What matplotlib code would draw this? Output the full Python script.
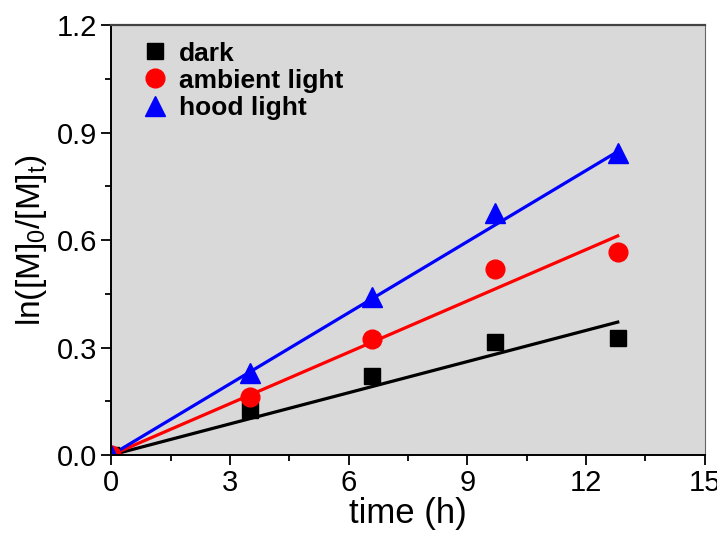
import numpy as np
import matplotlib
matplotlib.use("Agg")
import matplotlib.pyplot as plt
from matplotlib.ticker import MultipleLocator, FormatStrFormatter

plt.rcParams['font.family'] = ['Liberation Sans', 'DejaVu Sans']
plt.rcParams['mathtext.default'] = 'regular'

# data
time_h = [0, 3.5, 6.6, 9.7, 12.8]
dark = [0, 0.125, 0.222, 0.317, 0.327]
ambient = [0, 0.162, 0.323, 0.520, 0.568]
hood = [0, 0.230, 0.442, 0.675, 0.843]

# slopes of the fitted lines (per hour)
slope_dark = 0.0290
slope_ambient = 0.0478
slope_hood = 0.0662
fit_end = 12.8

fig = plt.figure(figsize=(7.17, 5.36), dpi=100)
ax = fig.add_axes([0.155, 0.151, 0.828, 0.802])
ax.set_facecolor('#d9d9d9')

xf = np.array([0, fit_end])
ax.plot(xf, slope_dark * xf, color='black', lw=2.3)
ax.plot(xf, slope_ambient * xf, color='red', lw=2.3)
ax.plot(xf, slope_hood * xf, color='blue', lw=2.3)

ax.plot(time_h, dark, 's', color='black', ms=11.5, ls='none', label='dark')
ax.plot(time_h, ambient, 'o', color='red', ms=13.5, ls='none', label='ambient light')
ax.plot(time_h, hood, '^', color='blue', ms=14, ls='none', label='hood light')

ax.set_xlim(0, 15)
ax.set_ylim(0, 1.2)
ax.xaxis.set_major_locator(MultipleLocator(3))
ax.xaxis.set_minor_locator(MultipleLocator(1.5))
ax.yaxis.set_major_locator(MultipleLocator(0.3))
ax.yaxis.set_minor_locator(MultipleLocator(0.15))
ax.yaxis.set_major_formatter(FormatStrFormatter('%.1f'))
ax.tick_params(which='major', direction='out', length=7, width=1.3, labelsize=21,
               pad=3, top=False, right=False)
ax.tick_params(which='minor', direction='out', length=4, width=1.3, top=False, right=False)

for s in ['left', 'bottom']:
    ax.spines[s].set_linewidth(1.4)
ax.spines['top'].set_color('#444444')
ax.spines['top'].set_linewidth(1.6)
ax.spines['right'].set_color('#666666')

ax.set_xlabel('time (h)', fontsize=25, labelpad=0)
ax.set_ylabel('ln([M]$_0$/[M]$_t$)', fontsize=24)
ax.yaxis.set_label_coords(-0.105, 0.5)

leg = ax.legend(loc='upper left', bbox_to_anchor=(0.016, 1.005), frameon=False,
                prop={'size': 19, 'weight': 'bold'}, handletextpad=0.3,
                labelspacing=0.12, handlelength=1.2, borderaxespad=0.3)

fig.savefig('out.png', dpi=100)
